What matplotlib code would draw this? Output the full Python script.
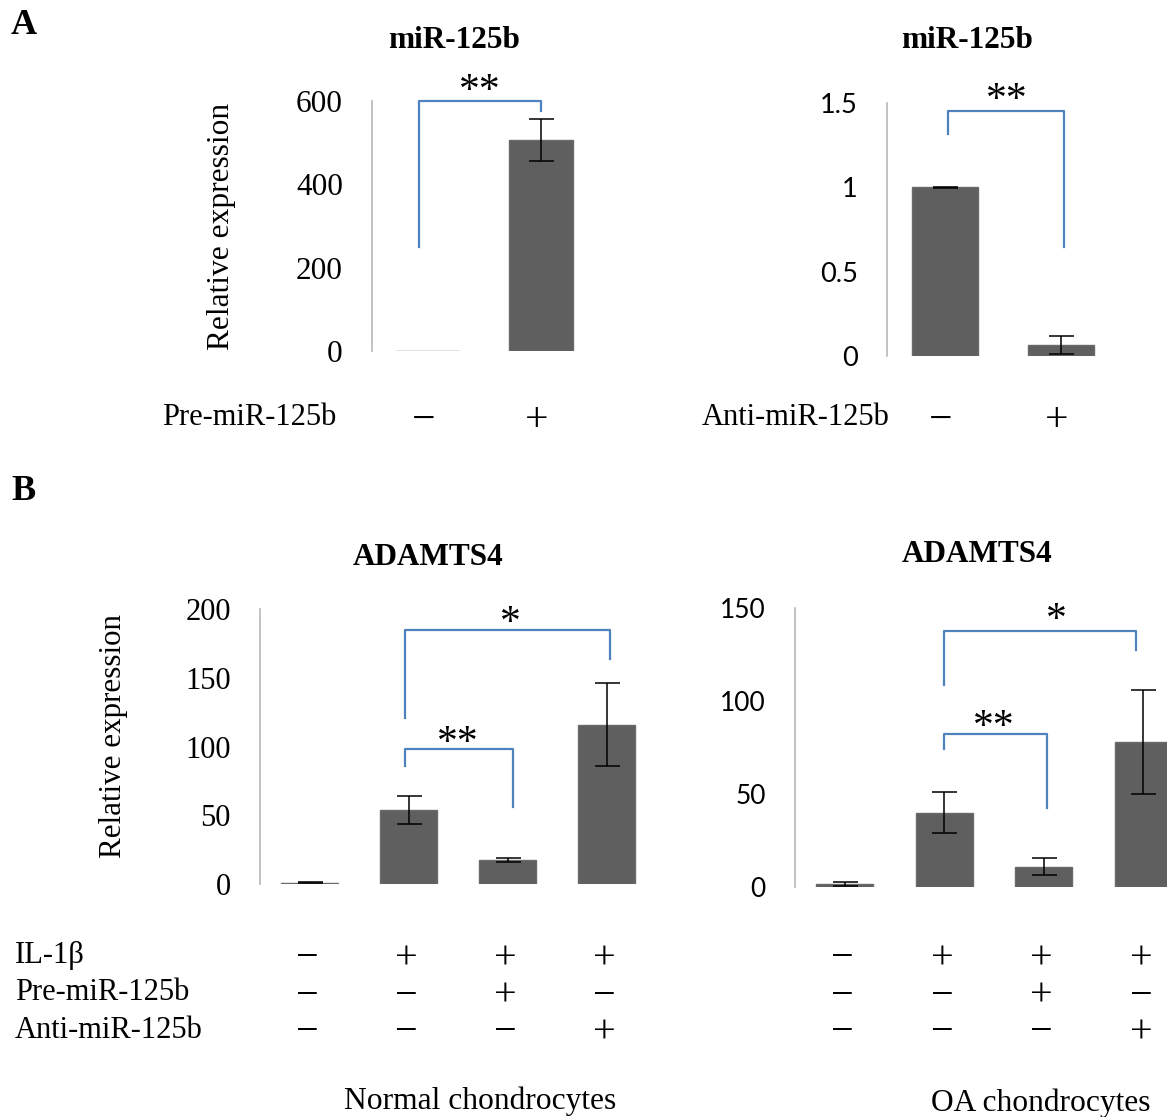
import matplotlib
matplotlib.use('Agg')
import matplotlib.pyplot as plt
from matplotlib.transforms import blended_transform_factory

# ---------------- data ----------------
a1_title = "miR-125b"
a1_row_label = "Pre-miR-125b"
a1_signs = ["\u2212", "+"]
a1_values = [1.0, 507.0]
a1_err = [0.0, 50.0]
a1_ticks = [0, 200, 400, 600]

a2_title = "miR-125b"
a2_row_label = "Anti-miR-125b"
a2_signs = ["\u2212", "+"]
a2_values = [1.0, 0.065]
a2_err = [0.003, 0.055]
a2_ticks = [0, 0.5, 1, 1.5]
a2_ticklabels = ["0", "0.5", "1", "1.5"]

b_title = "ADAMTS4"
b_row_labels = ["IL-1\u03b2", "Pre-miR-125b", "Anti-miR-125b"]
b_il1b = ["\u2212", "+", "+", "+"]
b_pre = ["\u2212", "\u2212", "+", "\u2212"]
b_anti = ["\u2212", "\u2212", "\u2212", "+"]

b1_values = [1.0, 54.0, 17.5, 116.0]
b1_err = [0.3, 10.0, 1.2, 30.0]
b1_ticks = [0, 50, 100, 150, 200]
b1_group = "Normal chondrocytes"

b2_values = [1.5, 40.0, 11.0, 78.0]
b2_err = [1.0, 11.0, 4.5, 28.0]
b2_ticks = [0, 50, 100, 150]
b2_group = "OA chondrocytes"

ylabel = "Relative expression"

# brackets: (x_left, x_right, y_left, y_top, y_right, text, text_x, text_y)
a1_brackets = [(-0.08, 1.0, 250, 600, 575, "**", 0.46, 650)]
a2_brackets = [(0.03, 1.03, 1.316, 1.45, 0.646, "**", 0.53, 1.58)]
b1_brackets = [(0.96, 3.04, 120.7, 184.7, 164, "*", 2.03, 197),
               (0.96, 2.06, 85.8, 98, 56, "**", 1.5, 110)]
b2_brackets = [(0.995, 2.93, 108.6, 137.8, 127.4, "*", 2.13, 149),
               (0.995, 2.03, 74.2, 82.3, 42.3, "**", 1.5, 91.5)]

# ---------------- style ----------------
SERIF = "Liberation Serif"
SANS = "Lato"
BAR = "#5f5f5f"
BLUE = "#4f81bd"
SPINE = "#b8b8b8"

W, H = 1167, 1117
fig = plt.figure(figsize=(W / 100, H / 100), dpi=100)


def rect(x0, x1, ybot, ytop):
    return [x0 / W, 1 - ybot / H, (x1 - x0) / W, (ybot - ytop) / H]


def draw_panel(r, values, err, ylim, ticks, ticklabels, tickfont, ticksize, brackets):
    ax = fig.add_axes(r)
    x = list(range(len(values)))
    ax.bar(x, values, width=0.57, color=BAR, edgecolor="#6a6a6a", linewidth=1.0)
    ex = [xi for xi, e in zip(x, err) if e > 0]
    ev = [v for v, e in zip(values, err) if e > 0]
    ee = [e for e in err if e > 0]
    ax.errorbar(ex, ev, yerr=ee, fmt="none", ecolor="black",
                elinewidth=1.1, capsize=9, capthick=1.1)
    ax.set_xlim(-0.5, len(values) - 0.5)
    ax.set_ylim(*ylim)
    for s in ["top", "right", "bottom"]:
        ax.spines[s].set_visible(False)
    ax.spines["left"].set_color(SPINE)
    ax.spines["left"].set_linewidth(1.2)
    ax.set_xticks([])
    ax.set_yticks(ticks)
    ax.set_yticklabels(ticklabels, fontfamily=tickfont, fontsize=ticksize)
    ax.tick_params(axis="y", length=0, pad=21)
    for (xl, xr, yl, yt, yr, txt, tx, ty) in brackets:
        ax.plot([xl, xl, xr, xr], [yl, yt, yt, yr], color=BLUE, lw=1.6,
                clip_on=False, solid_joinstyle="round")
        ax.annotate(txt, (tx, ty), xytext=(0, -8), textcoords="offset points",
                    ha="center", va="center", fontfamily=SERIF,
                    fontsize=30, annotation_clip=False)
    return ax


ax1 = draw_panel(rect(372, 597, 351, 101), a1_values, a1_err, (0, 600),
                 a1_ticks, [str(t) for t in a1_ticks], SERIF, 22.5, a1_brackets)
ax2 = draw_panel(rect(887, 1119, 356, 103), a2_values, a2_err, (0, 1.5),
                 a2_ticks, a2_ticklabels, SANS, 19.5, a2_brackets)
ax3 = draw_panel(rect(260, 656, 884, 609), b1_values, b1_err, (0, 200),
                 b1_ticks, [str(t) for t in b1_ticks], SERIF, 22, b1_brackets)
ax4 = draw_panel(rect(795, 1193, 887, 608), b2_values, b2_err, (0, 150),
                 b2_ticks, [str(t) for t in b2_ticks], SANS, 19, b2_brackets)


def fy(py):
    return 1 - py / H


# panel letters
fig.text(11 / W, fy(26), "A", fontfamily=SERIF, fontweight="bold", fontsize=26,
         ha="left", va="center")
fig.text(11 / W, fy(492), "B", fontfamily=SERIF, fontweight="bold", fontsize=26,
         ha="left", va="center")

# titles
fig.text(454 / W, fy(41), a1_title, fontfamily=SERIF, fontweight="bold",
         fontsize=22.5, ha="center", va="center")
fig.text(967 / W, fy(41), a2_title, fontfamily=SERIF, fontweight="bold",
         fontsize=22.5, ha="center", va="center")
fig.text(428 / W, fy(557), b_title, fontfamily=SERIF, fontweight="bold",
         fontsize=22.5, ha="center", va="center")
fig.text(977 / W, fy(554), b_title, fontfamily=SERIF, fontweight="bold",
         fontsize=22.5, ha="center", va="center")

# y labels
fig.text(222 / W, fy(226), ylabel, fontfamily=SERIF, fontsize=22.6,
         rotation=90, ha="center", va="center")
fig.text(114 / W, fy(736), ylabel, fontfamily=SERIF, fontsize=22.3,
         rotation=90, ha="center", va="center")

# A row labels
fig.text(336 / W, fy(418), a1_row_label, fontfamily=SERIF, fontsize=22,
         ha="right", va="center")
fig.text(890 / W, fy(418), a2_row_label, fontfamily=SERIF, fontsize=22,
         ha="right", va="center")
for ax, signs in [(ax1, a1_signs), (ax2, a2_signs)]:
    tr = blended_transform_factory(ax.transData, fig.transFigure)
    for i, s in enumerate(signs):
        ax.text(i - 0.04, fy(421), s, transform=tr, fontfamily=SERIF,
                fontsize=30, ha="center", va="center")

# B condition table
row_y = [956, 993, 1030]
for lab, py in zip(b_row_labels, row_y):
    fig.text(15 / W, fy(py), lab, fontfamily=SERIF, fontsize=22,
             ha="left", va="center")
for ax in (ax3, ax4):
    tr = blended_transform_factory(ax.transData, fig.transFigure)
    for row, py in zip([b_il1b, b_pre, b_anti], row_y):
        for i, s in enumerate(row):
            ax.text(i - 0.02, fy(py + 3), s, transform=tr, fontfamily=SERIF,
                    fontsize=29, ha="center", va="center")

fig.text(480 / W, fy(1101), b1_group, fontfamily=SERIF, fontsize=22.7,
         ha="center", va="center")
fig.text(1041 / W, fy(1103), b2_group, fontfamily=SERIF, fontsize=22.7,
         ha="center", va="center")

fig.savefig("out.png", dpi=100)
